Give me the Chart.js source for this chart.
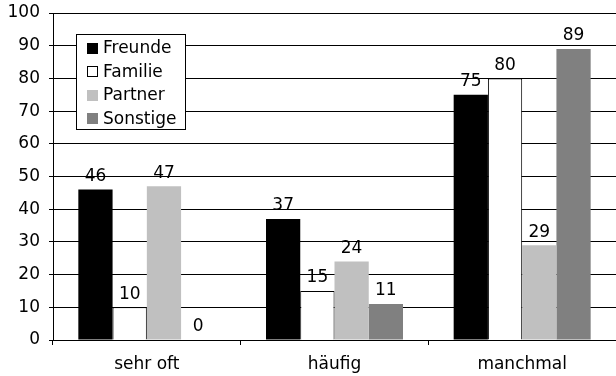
<!DOCTYPE html>
<html>
<head>
<meta charset="utf-8">
<script src="https://cdn.jsdelivr.net/npm/chart.js@4/dist/chart.umd.min.js"></script>
<style>
  html, body { margin: 0; padding: 0; background: #fff; }
  #wrap { width: 616px; height: 376px; }
</style>
</head>
<body>
<div id="wrap"><canvas id="c" width="616" height="376"></canvas></div>
<script>
const categories = ['sehr oft', 'häufig', 'manchmal'];
const seriesNames = ['Freunde', 'Familie', 'Partner', 'Sonstige'];
const freunde  = [46, 37, 75];
const familie  = [10, 15, 80];
const partner  = [47, 24, 29];
const sonstige = [0, 11, 89];
const yTicks = [0, 10, 20, 30, 40, 50, 60, 70, 80, 90, 100];

const FONT = 'DejaVu Sans, Verdana, sans-serif';
const FSIZE = 17;
const fills   = ['#000000', '#ffffff', '#c0c0c0', '#808080'];
const borders = [0, 1, 0, 0];

const seriesValues = [freunde, familie, partner, sonstige];
const datasets = seriesNames.map((name, i) => ({
  label: name,
  data: seriesValues[i],
  backgroundColor: fills[i],
  borderColor: '#000000',
  borderWidth: borders[i],
  borderSkipped: 'start',
  categoryPercentage: 0.73,
  barPercentage: 1.0
}));

// value labels above each bar
const valueLabels = {
  id: 'valueLabels',
  afterDatasetsDraw(chart) {
    const ctx = chart.ctx;
    ctx.save();
    ctx.font = FSIZE + 'px ' + FONT;
    ctx.fillStyle = '#000';
    ctx.textAlign = 'center';
    ctx.textBaseline = 'middle';
    chart.data.datasets.forEach((ds, di) => {
      chart.getDatasetMeta(di).data.forEach((bar, i) => {
        ctx.fillText(String(ds.data[i]), bar.x, bar.y - 13);
      });
    });
    ctx.restore();
  }
};

// boxed legend inside the plot area
const boxLegend = {
  id: 'boxLegend',
  afterDraw(chart) {
    const ctx = chart.ctx;
    const a = chart.chartArea;
    const x = a.left + 23, y = a.top + 21, w = 109, h = 95;
    ctx.save();
    ctx.fillStyle = '#fff';
    ctx.fillRect(x, y, w, h);
    ctx.strokeStyle = '#000';
    ctx.lineWidth = 1;
    ctx.strokeRect(x + 0.5, y + 0.5, w, h);
    ctx.font = FSIZE + 'px ' + FONT;
    ctx.textBaseline = 'middle';
    ctx.textAlign = 'left';
    chart.data.datasets.forEach((ds, i) => {
      const cy = y + 14 + i * 23.5;
      const sq = 11;
      ctx.fillStyle = ds.backgroundColor;
      ctx.fillRect(x + 11, Math.round(cy - sq / 2), sq, sq);
      if (ds.borderWidth) {
        ctx.strokeStyle = '#000';
        ctx.strokeRect(x + 11.5, Math.round(cy - sq / 2) + 0.5, sq - 1, sq - 1);
      }
      ctx.fillStyle = '#000';
      ctx.fillText(ds.label, x + 27, cy + 1);
    });
    ctx.restore();
  }
};

new Chart(document.getElementById('c'), {
  type: 'bar',
  data: { labels: categories, datasets },
  plugins: [valueLabels, boxLegend],
  options: {
    responsive: false,
    animation: false,
    devicePixelRatio: 1,
    layout: { padding: { top: 13, right: 0, left: 0, bottom: 0 } },
    plugins: {
      legend: { display: false },
      tooltip: { enabled: false }
    },
    scales: {
      x: {
        afterFit(scale) {
          scale.height = 36;
          scale.paddingLeft = 0;
          scale.paddingRight = 0;
        },
        grid: {
          offset: true,
          drawOnChartArea: false,
          drawTicks: true,
          tickLength: 5,
          color: '#000'
        },
        border: { display: true, color: '#000' },
        ticks: {
          color: '#000',
          padding: 9,
          font: { family: FONT, size: FSIZE }
        }
      },
      y: {
        min: 0,
        max: 100,
        afterFit(scale) {
          scale.width = 53;
          scale.paddingTop = 0;
          scale.paddingBottom = 0;
        },
        afterBuildTicks(scale) { scale.ticks = yTicks.map(v => ({ value: v })); },
        grid: {
          color: '#000',
          lineWidth: 1,
          tickLength: 4
        },
        border: { display: true, color: '#000' },
        ticks: {
          color: '#000',
          padding: 9,
          font: { family: FONT, size: FSIZE }
        }
      }
    }
  }
});
</script>
</body>
</html>
